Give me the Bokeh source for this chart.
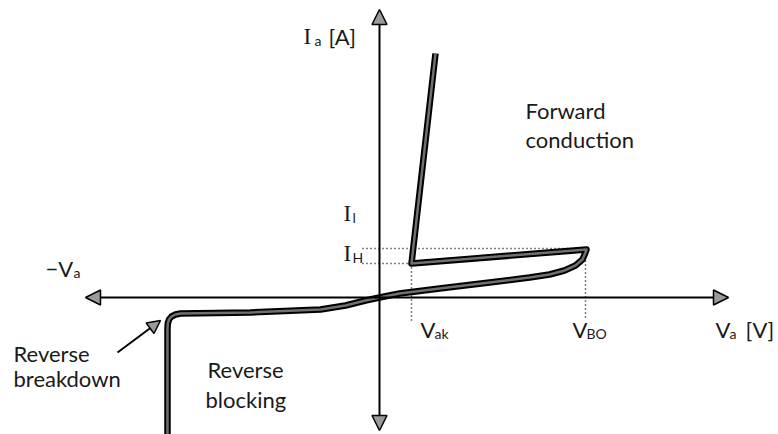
from bokeh.plotting import figure
from bokeh.models import Range1d, Arrow, NormalHead
from bokeh.core.properties import value
from bokeh.embed import file_html
from bokeh.resources import INLINE

# ---- data (schematic units: voltage, current) ----
# on-state (forward conduction) branch, top -> knee at V_ak
on_v = [56, 32]
on_i = [244, 34]
# holding branch from V_ak up to the breakover point
hold_v = [32, 207]
hold_i = [34, 48]
# forward blocking branch from breakover back to origin
fblock_v = [207, 206, 203, 196, 185, 170, 150, 110, 60, 20, 0]
fblock_i = [48, 45, 38, 32, 27, 23, 20, 15, 9, 4, 0]
# reverse blocking + reverse breakdown
rev_v = [0, -14, -34, -59, -129, -199, -204, -208, -210.5, -211.7, -212, -212]
rev_i = [0, -3, -8, -12, -15, -16, -17, -19, -22, -26, -31, -150]

V_AK = 32
V_BO = 206
I_H = 34
I_UP = 49

i_labels = ["I", "I", "I"]
i_subs = ["a", "l", "H"]
axis_labels = ["[A]", "V", "[V]", "\u2212V"]
axis_subs = ["a", "a"]
point_labels = ["V", "V"]
point_subs = ["ak", "BO"]
region_labels = ["Forward", "conduction", "Reverse", "breakdown", "Reverse", "blocking"]

FONT = value("Lato")
SERIF = value("Liberation Serif")
INK = "#1a1a1a"

p = figure(width=778, height=434, x_range=Range1d(-379, 399), y_range=Range1d(-137, 297),
           output_backend="svg", toolbar_location=None, min_border=0,
           x_axis_type=None, y_axis_type=None, outline_line_color=None)
p.xgrid.visible = False
p.ygrid.visible = False

# axes with arrowheads
def head():
    return NormalHead(size=15, fill_color="#9a9a9a", line_color="black", line_width=1.5)

p.add_layout(Arrow(start=head(), end=head(), x_start=-294, y_start=0, x_end=349, y_end=0,
                   line_width=2, line_color="black"))
p.add_layout(Arrow(start=head(), end=head(), x_start=0, y_start=-133, x_end=0, y_end=288,
                   line_width=2, line_color="black"))

# dotted reference lines
dot = dict(line_color="black", line_width=1.5, line_dash="1 3")
p.line([-17, V_BO], [I_UP, I_UP], **dot)
p.line([-17, V_AK], [I_H, I_H], **dot)
p.line([V_AK, V_AK], [I_H, -23], **dot)
p.line([V_BO, V_BO], [I_UP, -23], **dot)

# characteristic curve
curve_v = on_v + hold_v[1:] + fblock_v[1:] + rev_v[1:]
curve_i = on_i + hold_i[1:] + fblock_i[1:] + rev_i[1:]
p.line(curve_v, curve_i, line_color="black", line_width=6.5, line_join="round")
p.line(curve_v, curve_i, line_color="#707070", line_width=2.5, line_join="round")

# reverse breakdown pointer
p.add_layout(Arrow(end=NormalHead(size=13, fill_color="#9a9a9a", line_color="black", line_width=1.5),
                   x_start=-262, y_start=-55, x_end=-219, y_end=-23, line_width=2, line_color="black"))

# labels
main_kw = dict(text_font=FONT, text_font_size="22px", text_color=INK,
               text_align="left", text_baseline="alphabetic")
serif_kw = dict(text_font=SERIF, text_font_size="23px", text_color=INK,
                text_align="left", text_baseline="alphabetic")
sub_kw = dict(text_font=FONT, text_font_size="14px", text_color=INK,
              text_align="left", text_baseline="alphabetic")

p.text(x=[-76, -36, -36], y=[261, 84, 44], text=i_labels, **serif_kw)
p.text(x=[-65, -27, -27], y=[257, 80, 40], text=i_subs, **sub_kw)
p.text(x=[-51, 336, 366, -334], y=[261, -32, -32, 29], text=axis_labels, **main_kw)
p.text(x=[350, -306], y=[-36, 25], text=axis_subs, **sub_kw)
p.text(x=[41, 193], y=[-32, -32], text=point_labels, **main_kw)
p.text(x=[55, 207], y=[-36, -36], text=point_subs, **sub_kw)
p.text(x=[146, 146, -366, -366, -172, -174], y=[187, 158, -56, -81, -72, -102],
       text=region_labels, **main_kw)

open("out.html", "w").write(file_html(p, INLINE))
